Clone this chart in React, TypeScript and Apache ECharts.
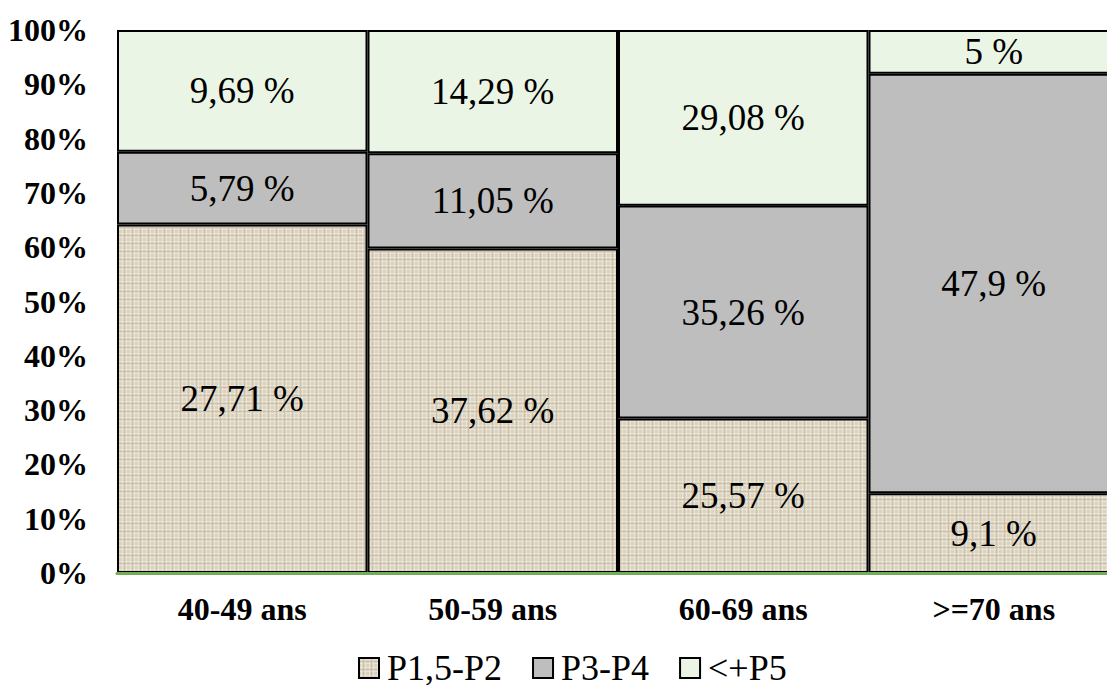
import React, { useEffect, useRef } from 'react';
import * as echarts from 'echarts';

const categories = ['40-49 ans', '50-59 ans', '60-69 ans', '>=70 ans'];
const seriesNames = ['P1,5-P2', 'P3-P4', '<+P5'];
const valuesP1P2 = [27.71, 37.62, 25.57, 9.1];
const valuesP3P4 = [5.79, 11.05, 35.26, 47.9];
const valuesP5 = [9.69, 14.29, 29.08, 5];
const yTickValues = [0, 10, 20, 30, 40, 50, 60, 70, 80, 90, 100];

const FONT = 'Liberation Serif';

function makeLinen(): HTMLCanvasElement {
  const c = document.createElement('canvas');
  c.width = 8;
  c.height = 8;
  const ctx = c.getContext('2d')!;
  ctx.fillStyle = '#dad2bf';
  ctx.fillRect(0, 0, 8, 8);
  ctx.fillStyle = '#e9e3d5';
  ctx.fillRect(0, 1, 8, 1);
  ctx.fillRect(0, 5, 8, 1);
  ctx.fillRect(2, 0, 1, 8);
  ctx.fillRect(6, 0, 1, 8);
  ctx.fillStyle = '#cbc2ad';
  ctx.fillRect(0, 3, 8, 1);
  ctx.fillRect(4, 0, 1, 8);
  return c;
}

export default function App() {
  const ref = useRef<HTMLDivElement>(null);
  useEffect(() => {
    if (!ref.current) return;
    const chart = echarts.init(ref.current, undefined, { renderer: 'svg' });
    const raw = [valuesP1P2, valuesP3P4, valuesP5];
    const totals = categories.map((_, i) => raw.reduce((s, arr) => s + arr[i], 0));
    const linen = makeLinen();
    const colors: any[] = [
      { image: linen, repeat: 'repeat' },
      '#bebebe',
      '#ebf5e5',
    ];
    const fmt = (v: number) => String(v).replace('.', ',') + ' %';
    const series = raw.map((arr, si) => ({
      name: seriesNames[si],
      type: 'bar',
      stack: 'total',
      barCategoryGap: '0%',
      data: arr.map((v, i) => (v / totals[i]) * 100),
      itemStyle: { color: colors[si], borderColor: '#000', borderWidth: 2 },
      label: {
        show: true,
        position: 'inside',
        fontFamily: FONT,
        fontSize: 37,
        color: '#000',
        formatter: (p: any) => fmt(arr[p.dataIndex]),
      },
    }));
    chart.setOption({
      animation: false,
      grid: {
        left: 117,
        width: 1002,
        top: 30,
        bottom: 115,
        containLabel: false,
        outerBoundsMode: 'none',
      },
      legend: {
        data: seriesNames,
        left: 353,
        top: 645,
        itemWidth: 20,
        itemHeight: 20,
        itemGap: 30,
        icon: 'rect',
        itemStyle: { borderColor: '#000', borderWidth: 2 },
        textStyle: { fontFamily: FONT, fontSize: 36, color: '#000', padding: [0, 0, 0, 3] },
      },
      xAxis: {
        type: 'category',
        data: categories,
        z: 10,
        axisLine: { show: true, lineStyle: { color: '#72ad5a', width: 3 } },
        axisTick: { show: false },
        axisLabel: { fontFamily: FONT, fontSize: 32, fontWeight: 'bold', color: '#000', margin: 20 },
      },
      yAxis: {
        type: 'value',
        min: yTickValues[0],
        max: yTickValues[yTickValues.length - 1],
        interval: yTickValues[1] - yTickValues[0],
        axisLine: { show: false },
        axisTick: { show: false },
        splitLine: { show: false },
        axisLabel: {
          formatter: '{value}%',
          fontFamily: FONT,
          fontSize: 32,
          fontWeight: 'bold',
          color: '#000',
          margin: 29,
        },
      },
      series,
    });
    return () => chart.dispose();
  }, []);
  return (
    <div
      ref={ref}
      style={{ position: 'absolute', left: 0, top: 0, width: 1107, height: 688, background: '#fff' }}
    />
  );
}
